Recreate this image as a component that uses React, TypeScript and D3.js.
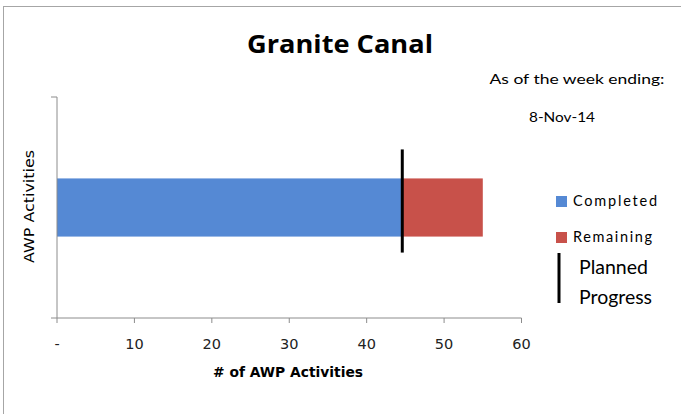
import { useMemo } from "react";
import * as d3 from "d3";

const W = 681;
const H = 414;

// data
const categories = ["AWP Activities"];
const completed = [44.6];
const remaining = [10.4];
const planned = [44.6];
const xTicks = [0, 10, 20, 30, 40, 50, 60];
const seriesNames = ["Completed", "Remaining"];
const seriesColors = ["#5589d4", "#c8514a"];

const FONT = "Lato, 'Open Sans', sans-serif";
const SANS = "'DejaVu Sans', Verdana, sans-serif";
const AXIS = "#8c8c8c";

export const App = () => {
  const margin = { left: 57, top: 97, bottom: 96 };

  const xScale = useMemo(
    () => d3.scaleLinear().domain([0, 60]).range([margin.left, 521.5]),
    []
  );
  // single category, bar about a quarter of the plot height
  const yScale = useMemo(
    () =>
      d3
        .scaleBand()
        .domain(categories)
        .range([margin.top, H - margin.bottom])
        .paddingInner(0)
        .paddingOuter(1.4),
    []
  );

  const stacked = categories.map((c, i) => ({
    name: c,
    parts: [
      { x0: 0, x1: completed[i], color: seriesColors[0] },
      { x0: completed[i], x1: completed[i] + remaining[i], color: seriesColors[1] },
    ],
  }));

  const bars = stacked.map((d, i) => {
    const y = yScale(d.name);
    if (y === undefined) return null;
    return (
      <g key={i}>
        {d.parts.map((p, j) => (
          <rect
            key={j}
            x={xScale(p.x0)}
            y={y}
            width={xScale(p.x1) - xScale(p.x0)}
            height={yScale.bandwidth()}
            fill={p.color}
          />
        ))}
        <line
          x1={xScale(planned[i])}
          x2={xScale(planned[i])}
          y1={y - 29}
          y2={y + yScale.bandwidth() + 16}
          stroke="#000"
          strokeWidth={3}
        />
      </g>
    );
  });

  const y0 = yScale.range()[1];
  const yTop = yScale.range()[0];

  const grid = xTicks.map((v, i) => (
    <g key={i}>
      <line x1={xScale(v)} x2={xScale(v)} y1={y0} y2={y0 + 5} stroke={AXIS} />
      <text
        x={xScale(v)}
        y={y0 + 31}
        textAnchor="middle"
        fontSize={14.5}
        fontFamily={SANS}
        fill="#222"
      >
        {v === 0 ? "-" : v}
      </text>
    </g>
  ));

  return (
    <svg
      width={W}
      height={H}
      style={{ position: "absolute", left: 0, top: 0, background: "#fff" }}
    >
      <rect x={3.5} y={6.5} width={W + 10} height={H + 10} fill="#fff" stroke="#a6a6a6" />

      <text x={340} y={53} textAnchor="middle" fontSize={25} fontWeight="bold" fontFamily="'Open Sans', sans-serif" fill="#000" textLength={186} lengthAdjust="spacingAndGlyphs">
        Granite Canal
      </text>
      <text x={577} y={84} textAnchor="middle" fontSize={13} fontFamily={FONT} fill="#000" textLength={175} lengthAdjust="spacingAndGlyphs">
        As of the week ending:
      </text>
      <text x={562} y={122} textAnchor="middle" fontSize={13} fontFamily={FONT} fill="#000" textLength={66} lengthAdjust="spacingAndGlyphs">
        8-Nov-14
      </text>

      {bars}

      {/* axes */}
      <line x1={xScale(0)} x2={xScale(0)} y1={yTop} y2={y0} stroke={AXIS} />
      <line x1={xScale(0) - 6} x2={xScale(0)} y1={yTop} y2={yTop} stroke={AXIS} />
      <line x1={xScale(0) - 6} x2={xScale(60)} y1={y0} y2={y0} stroke={AXIS} />
      {grid}

      <text
        transform={`translate(34,${(yTop + y0) / 2 - 1}) rotate(-90)`}
        textAnchor="middle"
        fontSize={13.5}
        fontFamily={SANS}
        fill="#000"
        textLength={113}
        lengthAdjust="spacingAndGlyphs"
      >
        {categories[0]}
      </text>
      <text x={288} y={377} textAnchor="middle" fontSize={13.5} fontWeight="bold" fontFamily={SANS} fill="#000" textLength={150} lengthAdjust="spacingAndGlyphs">
        # of AWP Activities
      </text>

      {/* legend */}
      {seriesNames.map((n, i) => (
        <g key={n}>
          <rect x={556} y={196 + i * 36} width={11} height={11} fill={seriesColors[i]} />
          <text x={573} y={206 + i * 36} fontSize={14.5} fontFamily={FONT} fill="#000" textLength={i === 0 ? 84 : 79} lengthAdjust="spacing">
            {n}
          </text>
        </g>
      ))}
      <line x1={559} x2={559} y1={253} y2={303} stroke="#000" strokeWidth={3} />
      <text x={579} y={274} fontSize={18.5} fontFamily={FONT} fill="#000" textLength={69} lengthAdjust="spacingAndGlyphs">
        Planned
      </text>
      <text x={579} y={304} fontSize={18.5} fontFamily={FONT} fill="#000" textLength={73} lengthAdjust="spacingAndGlyphs">
        Progress
      </text>
    </svg>
  );
};

export default App;
